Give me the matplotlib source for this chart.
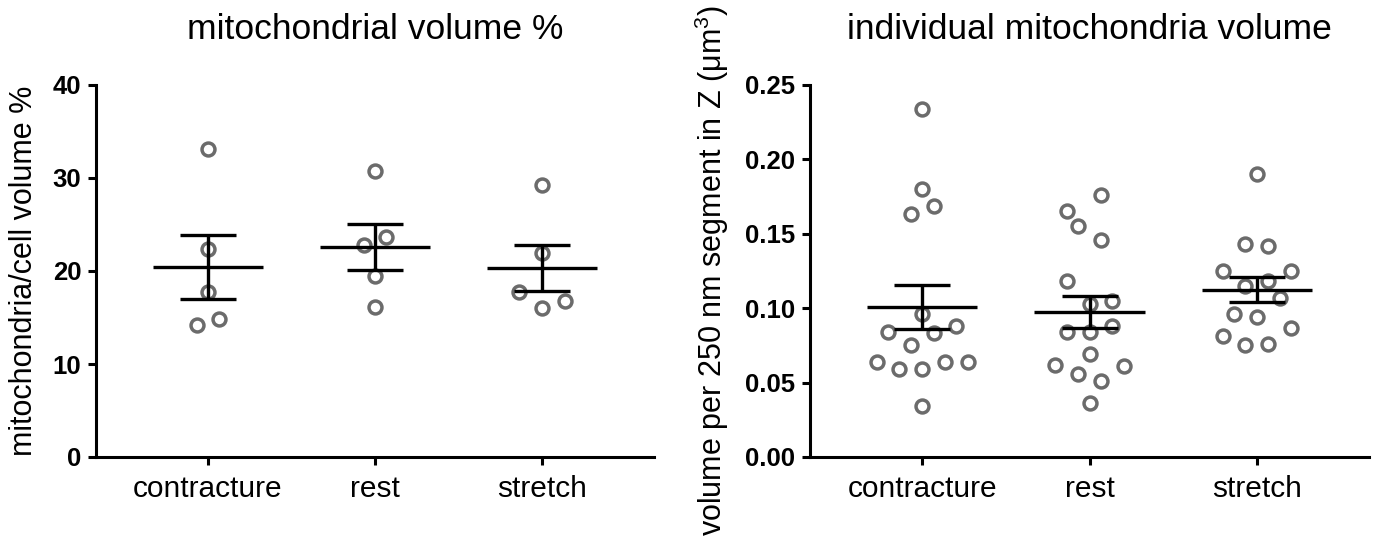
import matplotlib
matplotlib.use("Agg")
import matplotlib.pyplot as plt
import numpy as np

# ─────────────────────────────────────────────
#  DATA
# ─────────────────────────────────────────────
GROUPS = ["contracture", "rest", "stretch"]

# mitochondrial volume % per cell
pct_contracture = [33.1, 22.4, 17.7, 14.2, 14.8]
pct_rest        = [30.8, 22.8, 23.7, 19.5, 16.1]
pct_stretch     = [29.2, 21.9, 17.7, 16.0, 16.8]

# jitter slots used by the scatter (how the dots were spread sideways)
pct_slots_contracture = [0, 0, 0, -1, 1]
pct_slots_rest        = [0, -1, 1, 0, 0]
pct_slots_stretch     = [0, 0, -2, 0, 2]

# individual mitochondria volume (um^3 per 250 nm Z segment)
vol_contracture = [0.234, 0.180, 0.169, 0.163, 0.096, 0.088, 0.084, 0.083,
                   0.075, 0.064, 0.064, 0.064, 0.059, 0.059, 0.034]
vol_rest        = [0.176, 0.165, 0.155, 0.146, 0.118, 0.105, 0.103, 0.088,
                   0.084, 0.084, 0.069, 0.062, 0.061, 0.056, 0.051, 0.036]
vol_stretch     = [0.190, 0.143, 0.142, 0.125, 0.125, 0.118, 0.115, 0.107,
                   0.096, 0.094, 0.087, 0.081, 0.076, 0.075]

vol_slots_contracture = [0, 0, 1, -1, 0, 3, -3, 1, -1, -4, 2, 4, -2, 0, 0]
vol_slots_rest        = [1, -2, -1, 1, -2, 2, 0, 2, -2, 0, 0, -3, 3, -1, 1, 0]
vol_slots_stretch     = [0, -1, 1, -3, 3, 1, -1, 2, -2, 0, 3, -3, 1, -1]

PCT_TICKS = [0, 10, 20, 30, 40]
VOL_TICKS = [0.00, 0.05, 0.10, 0.15, 0.20, 0.25]

# ─────────────────────────────────────────────
#  STYLE
# ─────────────────────────────────────────────
DOT_COLOR = "#6b6b6b"
INK = "#000000"
JITTER = 0.068

plt.rcParams.update({
    "font.family": "Liberation Sans",
    "mathtext.fontset": "custom",
    "mathtext.rm": "Liberation Sans",
    "mathtext.it": "Liberation Sans:italic",
    "axes.linewidth": 2.2,
})


def draw_panel(ax, groups, values, slots, ticks, title, ylabel, fmt):
    for i, (vals, sl) in enumerate(zip(values, slots)):
        vals = np.asarray(vals)
        xs = i + np.asarray(sl) * JITTER
        ax.plot(xs, vals, "o", ms=9.3, mfc="none", mec=DOT_COLOR,
                mew=2.5, zorder=2, clip_on=False)

        # mean ± SEM, GraphPad style
        mean = vals.mean()
        sem = vals.std(ddof=1) / np.sqrt(len(vals))
        ax.hlines(mean, i - 0.33, i + 0.33, color=INK, lw=2.4, zorder=3)
        ax.errorbar(i, mean, yerr=sem, fmt="none", ecolor=INK,
                    elinewidth=2.4, capsize=20, capthick=2.4, zorder=3)

    ax.set_xlim(-0.67, 2.67)
    ax.set_ylim(ticks[0], ticks[-1])
    ax.set_xticks(range(len(groups)))
    ax.set_xticklabels(groups, fontsize=21.5)
    ax.set_yticks(ticks)
    ax.set_yticklabels([fmt.format(t) for t in ticks],
                       fontsize=18.5, fontweight="bold")

    for side in ("top", "right"):
        ax.spines[side].set_visible(False)
    ax.tick_params(axis="both", direction="out", length=6, width=2.2,
                   colors=INK)
    ax.tick_params(axis="y", pad=4.5)
    ax.tick_params(axis="x", pad=7)

    ax.set_ylabel(ylabel, fontsize=22, labelpad=10)
    ax.set_title(title, fontsize=25.5, pad=33)


fig = plt.figure(figsize=(13.78, 5.43), dpi=100)
fig.patch.set_facecolor("white")

ax1 = fig.add_axes([96 / 1378, 86 / 543, 558 / 1378, 372 / 543])
ax2 = fig.add_axes([810 / 1378, 86 / 543, 559 / 1378, 372 / 543])

draw_panel(ax1, GROUPS,
           [pct_contracture, pct_rest, pct_stretch],
           [pct_slots_contracture, pct_slots_rest, pct_slots_stretch],
           PCT_TICKS, "mitochondrial volume %",
           "mitochondria/cell volume %", "{:.0f}")

draw_panel(ax2, GROUPS,
           [vol_contracture, vol_rest, vol_stretch],
           [vol_slots_contracture, vol_slots_rest, vol_slots_stretch],
           VOL_TICKS, "individual mitochondria volume",
           "volume per 250 nm segment in Z (\u03bcm$^3$)", "{:.2f}")

fig.savefig("out.png", dpi=100, facecolor="white")
